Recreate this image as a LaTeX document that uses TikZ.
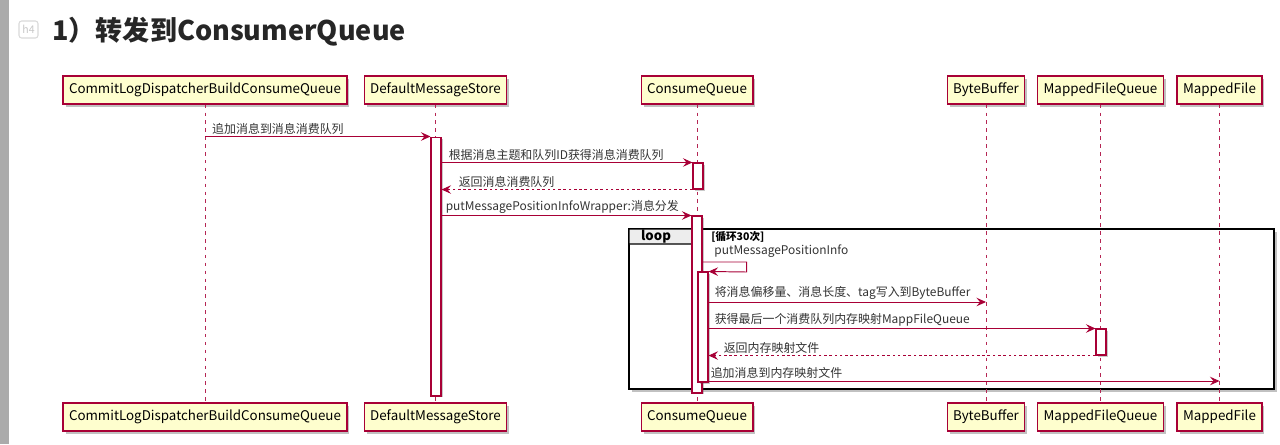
\documentclass[tikz,border=0pt]{standalone}
\usepackage{fontspec}
\setmainfont{Noto Sans CJK SC}
\usetikzlibrary{arrows.meta,shadows}
\begin{document}
\begin{tikzpicture}[x=0.02cm, y=-0.02cm,
    participant/.style={rectangle, draw=umlred, fill=umlyellow, line width=0.7pt,
        minimum height=0.56cm, inner xsep=0.12cm, inner ysep=0pt,
        font=\fontsize{7.6}{9}\selectfont,
        drop shadow={shadow xshift=0.05cm, shadow yshift=-0.05cm, opacity=0.35, fill=black!70}},
    activation/.style={rectangle, draw=umlred, fill=white, line width=0.6pt,
        minimum width=0.2cm, inner sep=0pt,
        drop shadow={shadow xshift=0.03cm, shadow yshift=-0.03cm, opacity=0.3, fill=black!70}},
    lifeline/.style={draw=umlred!85, line width=0.5pt, dash pattern=on 2pt off 2.5pt},
    msg/.style={draw=umlred, line width=0.55pt,
        -{Stealth[length=1.9mm, width=1.7mm, inset=0.7mm]}},
    reply/.style={msg, dash pattern=on 1.5pt off 1.5pt},
    msglabel/.style={font=\fontsize{6.8}{8}\selectfont, text=black!80,
        inner sep=1pt, anchor=south west},
    loopframe/.style={draw=black, line width=1.3pt, fill=white,
        drop shadow={shadow xshift=0.06cm, shadow yshift=-0.06cm, opacity=0.35, fill=black!70}},
    looptab/.style={draw=black, line width=0.7pt, fill=black!7},
]
\definecolor{umlred}{HTML}{A80036}
\definecolor{umlyellow}{HTML}{FEFECE}
\useasboundingbox (0,0) rectangle (1280,444);
  % editor margin and heading
  \fill[black!33] (0,0) rectangle (9,444);
  \node[draw=black!15, rounded corners=1.5pt, line width=0.6pt, text=black!22,
      font=\fontsize{6}{7}\selectfont, minimum width=0.38cm, minimum height=0.34cm,
      inner sep=0pt] (h_icon) at (28.5,29.5) {h4};
  \node[anchor=west, inner sep=0pt, text=black!85,
      font=\fontsize{15.4}{18}\selectfont\bfseries] (h_title) at (52,32) {1）转发到ConsumerQueue};
  % loop frame
  \draw[loopframe] (629,229) rectangle (1274,389);
  \draw[looptab] (629,229) -- (700,229) -- (700,238) -- (693,244) -- (629,244) -- cycle;
  \node[font=\fontsize{7.5}{9}\selectfont\bfseries, inner sep=0pt] (loop_tag) at (656,236.5) {loop};
  \node[font=\fontsize{6}{7}\selectfont\bfseries, anchor=west, inner sep=0pt] (loop_cond) at (711,237) {[循环30次]};
  % participants
  \node[participant] (p_cl_top) at (205,90) {CommitLogDispatcherBuildConsumeQueue};
  \node[participant] (p_dms_top) at (435.5,90) {DefaultMessageStore};
  \node[participant] (p_cq_top) at (697,90) {ConsumeQueue};
  \node[participant] (p_bb_top) at (986,90) {ByteBuffer};
  \node[participant] (p_mfq_top) at (1100.5,90) {MappedFileQueue};
  \node[participant] (p_mf_top) at (1219.5,90) {MappedFile};
  \node[participant] (p_cl_bot) at (205,417) {CommitLogDispatcherBuildConsumeQueue};
  \node[participant] (p_dms_bot) at (435.5,417) {DefaultMessageStore};
  \node[participant] (p_cq_bot) at (697,417) {ConsumeQueue};
  \node[participant] (p_bb_bot) at (986,417) {ByteBuffer};
  \node[participant] (p_mfq_bot) at (1100.5,417) {MappedFileQueue};
  \node[participant] (p_mf_bot) at (1219.5,417) {MappedFile};
  \foreach \p in {cl,dms,cq,bb,mfq,mf}
    \draw[lifeline] (p_\p_top.south) -- (p_\p_bot.north);
  % activations
  \node[activation, minimum height=5.18cm] (a_dms) at (436,266.5) {};
  \node[activation, minimum height=0.52cm] (a_cq_1) at (698,176) {};
  \node[activation, minimum height=3.54cm] (a_cq_2) at (697,304.5) {};
  \node[activation, minimum height=2.2cm] (a_cq_3) at (703,327) {};
  \node[activation, minimum height=0.52cm] (a_mfq) at (1101,342) {};
  % messages
  \draw[msg] (p_cl_top |- a_dms.north) -- (a_dms.north west)
    node[msglabel, pos=0, xshift=0.1cm] {追加消息到消息消费队列};
  \draw[msg] (a_dms.east |- a_cq_1.north) -- (a_cq_1.north west)
    node[msglabel, pos=0, xshift=0.1cm] {根据消息主题和队列ID获得消息消费队列};
  \draw[reply] (a_cq_1.south west) -- (a_dms.east |- a_cq_1.south)
    node[msglabel, pos=1, xshift=0.3cm] {返回消息消费队列};
  \draw[msg] (a_dms.east |- a_cq_2.north) -- (a_cq_2.north west)
    node[msglabel, pos=0, xshift=0.04cm] {putMessagePositionInfoWrapper:消息分发};
  \draw[msg] (a_cq_2.east |- 0,262) -- ++(44,0) -- ++(0,10) -- (a_cq_3.north east);
  \node[msglabel, anchor=west, inner sep=0pt] (l_self) at (714,251) {putMessagePositionInfo};
  \draw[msg] (a_cq_3.east |- 0,302) -- (p_bb_top |- 0,302)
    node[msglabel, pos=0, xshift=0.08cm] {将消息偏移量、消息长度、tag写入到ByteBuffer};
  \draw[msg] (a_cq_3.east |- a_mfq.north) -- (a_mfq.north west)
    node[msglabel, pos=0, xshift=0.08cm] {获得最后一个消费队列内存映射MappFileQueue};
  \draw[reply] (a_mfq.south west) -- (a_cq_3.east |- a_mfq.south)
    node[msglabel, pos=1, xshift=0.26cm] {返回内存映射文件};
  \draw[msg] (a_cq_3.east |- 0,381) -- (p_mf_top |- 0,381)
    node[msglabel, pos=0] {追加消息到内存映射文件};
\end{tikzpicture}
\end{document}
